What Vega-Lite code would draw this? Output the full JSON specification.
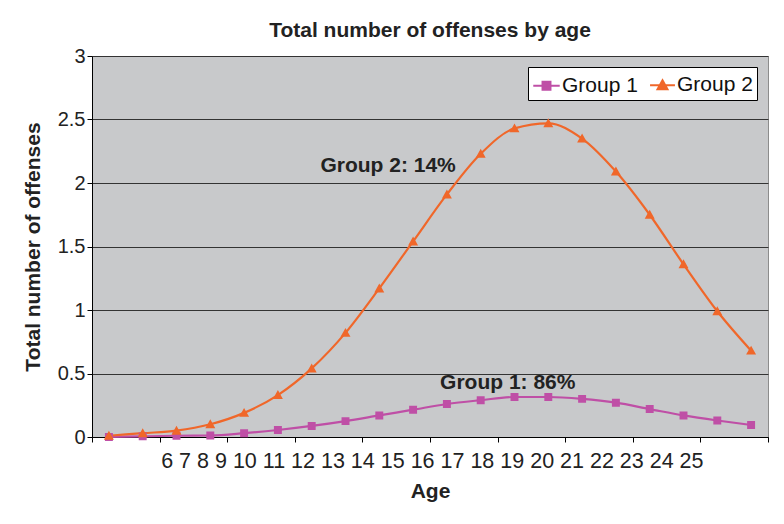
{
  "$schema": "https://vega.github.io/schema/vega-lite/v6.json",
  "width": 676,
  "height": 381,
  "autosize": "none",
  "padding": {"left": 92, "top": 56, "right": 16, "bottom": 87},
  "background": "white",
  "title": {"text": "Total number of offenses by age", "font": "Liberation Sans", "fontSize": 21, "fontWeight": "bold", "color": "#222222", "anchor": "middle", "offset": 5},
  "config": {
    "font": "Liberation Sans",
    "view": {"fill": "#c8c9cb", "stroke": "#8c8c8c", "strokeWidth": 1}
  },
  "datasets": {
    "series": [
      {"age": 6, "group": "Group 1", "offenses": 0.0},
      {"age": 7, "group": "Group 1", "offenses": 0.005},
      {"age": 8, "group": "Group 1", "offenses": 0.01},
      {"age": 9, "group": "Group 1", "offenses": 0.012},
      {"age": 10, "group": "Group 1", "offenses": 0.03},
      {"age": 11, "group": "Group 1", "offenses": 0.055},
      {"age": 12, "group": "Group 1", "offenses": 0.087},
      {"age": 13, "group": "Group 1", "offenses": 0.125},
      {"age": 14, "group": "Group 1", "offenses": 0.17},
      {"age": 15, "group": "Group 1", "offenses": 0.215},
      {"age": 16, "group": "Group 1", "offenses": 0.26},
      {"age": 17, "group": "Group 1", "offenses": 0.29},
      {"age": 18, "group": "Group 1", "offenses": 0.315},
      {"age": 19, "group": "Group 1", "offenses": 0.315},
      {"age": 20, "group": "Group 1", "offenses": 0.3},
      {"age": 21, "group": "Group 1", "offenses": 0.27},
      {"age": 22, "group": "Group 1", "offenses": 0.22},
      {"age": 23, "group": "Group 1", "offenses": 0.17},
      {"age": 24, "group": "Group 1", "offenses": 0.13},
      {"age": 25, "group": "Group 1", "offenses": 0.095},
      {"age": 6, "group": "Group 2", "offenses": 0.01},
      {"age": 7, "group": "Group 2", "offenses": 0.03},
      {"age": 8, "group": "Group 2", "offenses": 0.05},
      {"age": 9, "group": "Group 2", "offenses": 0.1},
      {"age": 10, "group": "Group 2", "offenses": 0.19},
      {"age": 11, "group": "Group 2", "offenses": 0.33},
      {"age": 12, "group": "Group 2", "offenses": 0.54},
      {"age": 13, "group": "Group 2", "offenses": 0.82},
      {"age": 14, "group": "Group 2", "offenses": 1.17},
      {"age": 15, "group": "Group 2", "offenses": 1.54},
      {"age": 16, "group": "Group 2", "offenses": 1.91},
      {"age": 17, "group": "Group 2", "offenses": 2.23},
      {"age": 18, "group": "Group 2", "offenses": 2.43},
      {"age": 19, "group": "Group 2", "offenses": 2.47},
      {"age": 20, "group": "Group 2", "offenses": 2.35},
      {"age": 21, "group": "Group 2", "offenses": 2.09},
      {"age": 22, "group": "Group 2", "offenses": 1.75},
      {"age": 23, "group": "Group 2", "offenses": 1.36},
      {"age": 24, "group": "Group 2", "offenses": 0.99},
      {"age": 25, "group": "Group 2", "offenses": 0.68}
    ],
    "notes": [
      {"label": "Group 2: 14%", "age": 14.26, "offenses": 2.13},
      {"label": "Group 1: 86%", "age": 17.8, "offenses": 0.425}
    ],
    "agelabels": [
      {"label": "6 7 8 9 10 11 12 13 14 15 16 17 18 19 20 21 22 23 24 25", "age": 15.57, "offenses": 0}
    ]
  },
  "layer": [
    {
      "data": {"name": "series"},
      "mark": {"type": "line", "interpolate": "monotone", "strokeWidth": 2.2},
      "encoding": {
        "x": {
          "field": "age", "type": "quantitative",
          "scale": {"domain": [5.5, 25.5], "nice": false, "zero": false},
          "axis": {
            "values": [5.5, 6.5, 7.5, 8.5, 9.5, 10.5, 11.5, 12.5, 13.5, 14.5, 15.5, 16.5, 17.5, 18.5, 19.5, 20.5, 21.5, 22.5, 23.5, 24.5, 25.5],
            "labels": false, "grid": false, "ticks": true, "tickSize": 5, "tickColor": "#000000",
            "domainColor": "#000000", "title": "Age", "titleFontSize": 21, "titleFontWeight": "bold",
            "titleColor": "#222222", "titlePadding": 38
          }
        },
        "y": {
          "field": "offenses", "type": "quantitative",
          "scale": {"domain": [0, 3], "nice": false},
          "axis": {
            "values": [0, 0.5, 1, 1.5, 2, 2.5, 3], "format": "~g",
            "grid": true, "gridColor": "#333333", "gridWidth": 1,
            "tickSize": 5, "tickColor": "#000000", "domainColor": "#000000",
            "labelFontSize": 20, "labelColor": "#222222", "labelPadding": 2,
            "title": "Total number of offenses", "titleFontSize": 21, "titleFontWeight": "bold",
            "titleColor": "#222222", "titlePadding": 14
          }
        },
        "color": {
          "field": "group", "type": "nominal",
          "scale": {"domain": ["Group 1", "Group 2"], "range": ["#bf4fa6", "#f0672a"]},
          "legend": {
            "title": null, "orient": "top-right", "offset": 11, "direction": "horizontal",
            "fillColor": "white", "strokeColor": "black", "padding": 4,
            "labelFontSize": 21, "labelColor": "#111111", "labelOffset": 1,
            "symbolSize": 500, "symbolStrokeWidth": 2, "columnPadding": 8
          }
        }
      }
    },
    {
      "data": {"name": "series"},
      "mark": {"type": "point", "filled": true, "opacity": 1},
      "encoding": {
        "x": {"field": "age", "type": "quantitative"},
        "y": {"field": "offenses", "type": "quantitative"},
        "color": {"field": "group", "type": "nominal"},
        "shape": {"field": "group", "type": "nominal", "scale": {"domain": ["Group 1", "Group 2"], "range": ["M-1,0H1M-0.3,-0.3H0.3V0.3H-0.3Z", "M-1,0H1M0,-0.4L0.4,0.32H-0.4Z"]}},
        "size": {"field": "group", "type": "nominal", "scale": {"domain": ["Group 1", "Group 2"], "range": [700, 620]}, "legend": null}
      }
    },
    {
      "data": {"name": "notes"},
      "mark": {"type": "text", "font": "Liberation Sans", "fontSize": 21, "fontWeight": "bold", "color": "#222222", "align": "center", "baseline": "middle"},
      "encoding": {
        "x": {"field": "age", "type": "quantitative"},
        "y": {"field": "offenses", "type": "quantitative"},
        "text": {"field": "label"}
      }
    },
    {
      "data": {"name": "agelabels"},
      "mark": {"type": "text", "font": "Liberation Sans", "fontSize": 21.5, "color": "#222222", "align": "center", "baseline": "middle", "dy": 25},
      "encoding": {
        "x": {"field": "age", "type": "quantitative"},
        "y": {"field": "offenses", "type": "quantitative"},
        "text": {"field": "label"}
      }
    }
  ]
}
